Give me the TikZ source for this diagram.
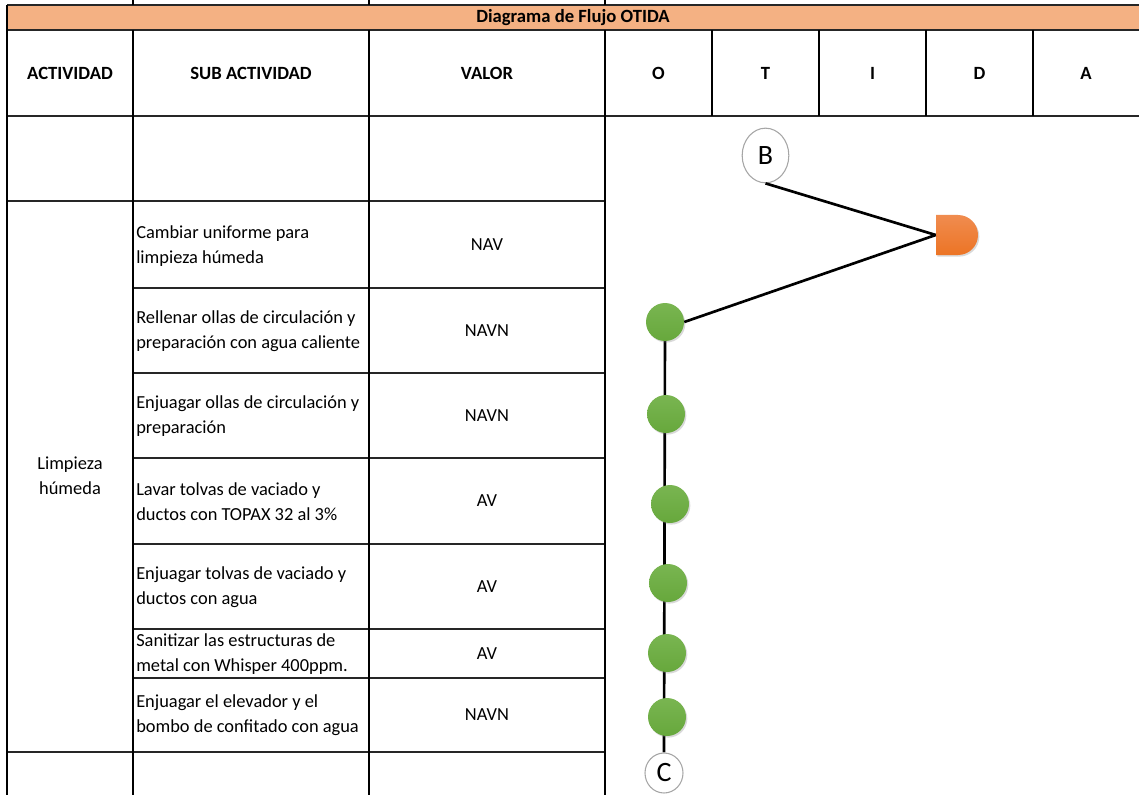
\documentclass[tikz,border=0pt]{standalone}
\usepackage{fontspec}
\setmainfont{Carlito}
\usetikzlibrary{shadows,backgrounds,shapes.geometric}
\definecolor{hdrorange}{HTML}{F4B183}
\definecolor{opgreen}{HTML}{67A83C}
\definecolor{opgreenlt}{HTML}{79B551}
\definecolor{dlyorange}{HTML}{EC7425}
\definecolor{dlyorangelt}{HTML}{F08C4F}
\definecolor{rimgray}{HTML}{A6A6A6}
\tikzset{
  vline/.style={line width=1.5pt,black},
  hline/.style={line width=1.1pt,black!85},
  hdrtext/.style={font=\fontsize{14}{16}\selectfont\bfseries,inner sep=0pt},
  celltext/.style={font=\fontsize{13.8}{18.5}\selectfont,align=left,anchor=west,inner sep=0pt},
  valtext/.style={font=\fontsize{13.8}{18.5}\selectfont,inner sep=0pt},
  opdot/.style={circle,minimum size=28.5pt,inner sep=0pt,top color=opgreenlt,bottom color=opgreen,
    drop shadow={shadow xshift=1pt,shadow yshift=-1.2pt,opacity=0.3}},
  connector/.style={ellipse,draw=rimgray,line width=0.8pt,fill=white,inner sep=0pt,
    font=\fontsize{21}{21}\selectfont},
  dlybox/.style={minimum width=31.5pt,minimum height=30pt,inner sep=0pt},
  flow/.style={line width=2pt,black},
}
\begin{document}
\begin{tikzpicture}[x=0.75pt,y=-0.75pt]
\useasboundingbox (0,0) rectangle (1139,795);

% title band
\fill[hdrorange] (7,5) rectangle (1139,30);
\node[hdrtext] (title) at (573,17.5) {Diagrama de Flujo OTIDA};

% horizontal rules
\draw[hline] (7,5) -- (1139,5);
\draw[hline] (7,30) -- (1139,30);
\draw[hline] (7,116) -- (1139,116);
\draw[hline] (7,201) -- (605,201);
\foreach \yy in {288,373,458,544,629,678}
  \draw[hline] (133,\yy) -- (605,\yy);
\draw[hline] (7,752) -- (605,752);

% vertical rules
\draw[vline] (7,5) -- (7,795);
\foreach \xx in {133,369,605}
  \draw[vline] (\xx,0) -- (\xx,5) (\xx,30) -- (\xx,795);
\foreach \xx in {712,819,926,1033}
  \draw[vline] (\xx,30) -- (\xx,116);

% column heads
\node[hdrtext] (hact) at (70,73) {ACTIVIDAD};
\node[hdrtext] (hsub) at (251,73) {SUB ACTIVIDAD};
\node[hdrtext] (hval) at (487,73) {VALOR};
\node[hdrtext] (ho) at (658.5,73) {O};
\node[hdrtext] (ht) at (765.5,73) {T};
\node[hdrtext] (hi) at (872.5,73) {I};
\node[hdrtext] (hd) at (979.5,73) {D};
\node[hdrtext] (ha) at (1086,73) {A};

% activity
\node[valtext,align=center] (act) at (70,476) {Limpieza\\húmeda};

% sub activities
\node[celltext] (s1) at (136,246) {Cambiar uniforme para\\limpieza húmeda};
\node[celltext] (s2) at (136,331) {Rellenar ollas de circulación y\\preparación con agua caliente};
\node[celltext] (s3) at (136,416) {Enjuagar ollas de circulación y\\preparación};
\node[celltext] (s4) at (136,501.5) {Lavar tolvas de vaciado y\\ductos con TOPAX 32 al 3\%};
\node[celltext] (s5) at (136,587) {Enjuagar tolvas de vaciado y\\ductos con agua};
\node[celltext] (s6) at (136,654) {Sanitizar las estructuras de\\metal con Whisper 400ppm.};
\node[celltext] (s7) at (136,715.5) {Enjuagar el elevador y el\\bombo de confitado con agua};

% values
\node[valtext] (v1) at (487,244.5) {NAV};
\node[valtext] (v2) at (487,330.5) {NAVN};
\node[valtext] (v3) at (487,415.5) {NAVN};
\node[valtext] (v4) at (487,501) {AV};
\node[valtext] (v5) at (487,586.5) {AV};
\node[valtext] (v6) at (487,653.5) {AV};
\node[valtext] (v7) at (487,715) {NAVN};

% flow symbols
\node[connector,minimum width=35pt,minimum height=41pt] (B) at (765.5,155.5) {B};
\node[dlybox] (D) at (957,235) {};
\node[opdot] (g1) at (665,322) {};
\node[opdot] (g2) at (666,414) {};
\node[opdot] (g3) at (670,504) {};
\node[opdot] (g4) at (668,583) {};
\node[opdot] (g5) at (667,653) {};
\node[opdot] (g6) at (667,717) {};
\node[connector,minimum width=28.5pt,minimum height=30pt] (C) at (664,773) {C};

% delay symbol: flat left side, rounded right side
\path[top color=dlyorangelt,bottom color=dlyorange,
      drop shadow={shadow xshift=1pt,shadow yshift=-1.2pt,opacity=0.3}]
  (936,255) -- (936,215) -- (958,215)
  .. controls (969.05,215) and (978,223.95) .. (978,235)
  .. controls (978,246.05) and (969.05,255) .. (958,255) -- cycle;

% connectors
\begin{scope}[on background layer]
  \draw[flow] (g1.center) -- (C.north);
\end{scope}
\draw[flow] (B.south) -- (D.west);
\draw[flow] (g1.east) -- (D.west);
\end{tikzpicture}
\end{document}
